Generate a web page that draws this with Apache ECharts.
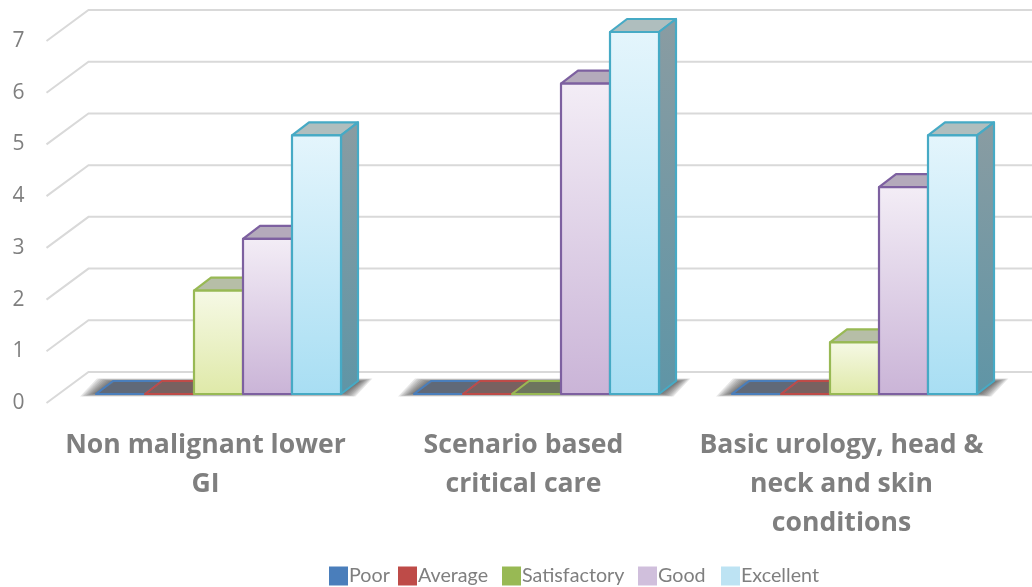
<!DOCTYPE html>
<html><head><meta charset="utf-8">
<style>html,body{margin:0;padding:0;background:#fff}#c{width:1032px;height:587px}</style>
<script src="https://cdn.jsdelivr.net/npm/echarts@6/dist/echarts.min.js"></script>
</head><body><div id="c"></div>
<script>
const categories = ['Non malignant lower\nGI', 'Scenario based\ncritical care', 'Basic urology, head &\nneck and skin\nconditions'];
const poor = [0, 0, 0];
const average = [0, 0, 0];
const satisfactory = [2, 0, 1];
const good = [3, 6, 4];
const excellent = [5, 7, 5];
const seriesNames = ['Poor', 'Average', 'Satisfactory', 'Good', 'Excellent'];
const seriesValues = [poor, average, satisfactory, good, excellent];
const gridValues = [0, 1, 2, 3, 4, 5, 6, 7];

const legendColors = ['#4a7ebb', '#be4b48', '#98b954', '#d0bfdc', '#bde3f3'];
const legendLefts = [329, 398, 502, 638, 721];
const strokes = ['#4a7ebb', '#be4b48', '#98b954', '#7d60a0', '#46aac5'];
const frontTop = ['#dbe5f3', '#f3dcdc', '#f6f9e6', '#f3edf6', '#e4f5fc'];
const frontBottom = ['#a7c0e0', '#e0a8a6', '#dfe9a8', '#cab4d7', '#a8def3'];
const topFill = ['rgba(70,100,150,.30)', 'rgba(150,70,65,.28)', 'rgba(110,125,80,.50)', 'rgba(105,85,120,.50)', 'rgba(95,125,125,.50)'];
const sideTop = ['#7d8fa5', '#a58585', '#8f9c75', '#98889f', '#8a9ca2'];
const sideBottom = ['#5f7b9f', '#a06563', '#7f9455', '#846b9a', '#5f95a6'];

// Oblique projection offsets, in pixels, from the front plane of the axes.
const barFront = [13, -9], barBack = [30, -22], wall = [42, -31];
const barShare = 49 / 318;
const shadowLayers = [18, 16, 14, 12, 10, 8, 6, 4, 2, 0];

function vgrad(a, b) {
  return { type: 'linear', x: 0, y: 0, x2: 0, y2: 1, colorStops: [{ offset: 0, color: a }, { offset: 1, color: b }] };
}

function renderBar(si) {
  return function (params, api) {
    const c = api.value(0), v = api.value(1);
    const base = api.coord([c, 0]);
    const topP = api.coord([c, v]);
    const band = api.size([1, 0])[0];
    const w = band * barShare;
    const xl = base[0] + barFront[0] + (si - 2.5) * w;
    const xr = xl + w;
    const yb = base[1] + barFront[1];
    const yt = topP[1] + barFront[1];
    const dx = barBack[0] - barFront[0], dy = barBack[1] - barFront[1];
    const line = { stroke: strokes[si], lineWidth: 2.2, lineJoin: 'round' };
    const kids = [];
    kids.push({ type: 'polygon', shape: { points: [[xl, yt], [xl + dx, yt + dy], [xr + dx, yt + dy], [xr, yt]] },
      style: Object.assign({ fill: topFill[si] }, line) });
    if (v > 0) {
      kids.push({ type: 'polygon', shape: { points: [[xr, yt], [xr + dx, yt + dy], [xr + dx, yb + dy], [xr, yb]] },
        style: Object.assign({ fill: vgrad(sideTop[si], sideBottom[si]) }, line) });
      kids.push({ type: 'rect', shape: { x: xl, y: yt, width: w, height: yb - yt },
        style: Object.assign({ fill: vgrad(frontTop[si], frontBottom[si]) }, line) });
    }
    return { type: 'group', children: kids };
  };
}

const wallSeries = {
  type: 'custom', name: 'wall', silent: true, clip: false, z: 1,
  data: gridValues.map(v => [0, v]), encode: { x: 0, y: 1 },
  renderItem(params, api) {
    const p = api.coord([api.value(0), api.value(1)]);
    const x0 = api.coord([0, 0])[0] - api.size([1, 0])[0] / 2;
    const y = p[1];
    return { type: 'polyline', shape: { points: [[x0, y], [x0 + wall[0], y + wall[1]], [1040, y + wall[1]]] },
      style: { stroke: '#d9d9d9', lineWidth: 2, fill: 'none' } };
  }
};

const shadowSeries = {
  type: 'custom', name: 'floor', silent: true, clip: false, z: 2,
  data: categories.map((_, i) => [i, 0]), encode: { x: 0, y: 1 },
  renderItem(params, api) {
    const b = api.coord([api.value(0), 0]);
    const band = api.size([1, 0])[0], w = band * barShare;
    const xl = b[0] + barFront[0] - 2.5 * w, xr = xl + 5 * w;
    const yb = b[1] + barFront[1];
    const dx = barBack[0] - barFront[0], dy = barBack[1] - barFront[1];
    const kids = shadowLayers.map(g => {
      const gy = g * 0.2 - 1;
      const gr = g * 0.8;
      return { type: 'polygon', shape: { points: [[xl + 2 - g, yb + gy], [xl + dx + 2 - g, yb + dy - gy], [xr + dx + gr, yb + dy - gy], [xr + gr, yb + gy]] },
        style: { fill: 'rgba(60,60,60,.13)' } };
    });
    return { type: 'group', children: kids };
  }
};

const barSeries = seriesNames.map((name, si) => ({
  type: 'custom', name, clip: false, z: 3 + si,
  itemStyle: { color: legendColors[si] },
  data: seriesValues[si].map((v, i) => [i, v]), encode: { x: 0, y: 1 },
  renderItem: renderBar(si)
}));

const chart = echarts.init(document.getElementById('c'), null, { renderer: 'canvas' });
chart.setOption({
  animation: false,
  backgroundColor: '#fff',
  textStyle: { fontFamily: 'Lato' },
  grid: { left: 46.5, top: 41, width: 954, height: 362 },
  xAxis: {
    type: 'category', data: categories, axisLine: { show: false }, axisTick: { show: false }, splitLine: { show: false },
    axisLabel: { interval: 0, margin: 23, color: '#7f7f7f', fontFamily: 'Open Sans', fontWeight: 'bold', fontSize: 26.6, lineHeight: 39 }
  },
  yAxis: {
    type: 'value', min: 0, max: 7, interval: 1, axisLine: { show: false }, axisTick: { show: false }, splitLine: { show: false },
    axisLabel: { margin: 22, color: '#7f7f7f', fontFamily: 'Open Sans', fontSize: 21, padding: [0, 0, 5, 0] }
  },
  legend: seriesNames.map((name, i) => ({
    data: [name], left: legendLefts[i], top: 566, icon: 'rect', itemWidth: 19, itemHeight: 19, padding: 0,
    textStyle: { color: '#7f7f7f', fontFamily: 'Lato', fontSize: 19.7, padding: [0, 0, 0, -4] }
  })),
  series: [wallSeries, shadowSeries].concat(barSeries)
});
</script></body></html>
